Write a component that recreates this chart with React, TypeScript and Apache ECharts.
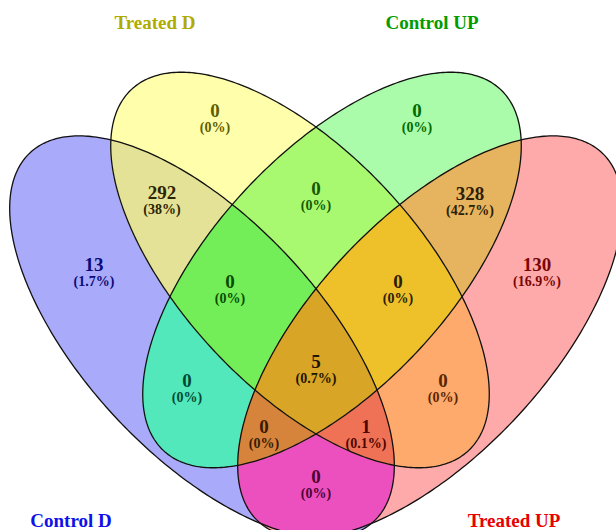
import React, { useEffect, useRef } from "react";
import * as echarts from "echarts";

// Set names, in the order A, B, C, D used by the region keys below
const setNames = ["Control D", "Treated D", "Control UP", "Treated UP"];
const setColors = ["#1010e8", "#b0ab00", "#009c00", "#e80000"];

// Venn regions (letters = sets that contain the region) and their counts
const regionKeys = ["A", "B", "C", "D", "AB", "AC", "AD", "BC", "BD", "CD", "ABC", "ABD", "ACD", "BCD", "ABCD"];
const regionCounts = [13, 0, 0, 130, 292, 0, 0, 0, 0, 328, 0, 1, 0, 0, 5];

// ---- layout & styling (chart space is 616 x 530, y pointing down) ----
const ellipses = [
  { cx: 202, cy: 337, a: 252, b: 118, angle: 47 },
  { cx: 300, cy: 270, a: 247, b: 118, angle: 47 },
  { cx: 332, cy: 270, a: 247, b: 118, angle: -47 },
  { cx: 430, cy: 337, a: 252, b: 118, angle: -47 },
];
const setLabelPos = [
  [71, 520],
  [155, 22],
  [432, 22],
  [514, 520],
];
const regionLabelPos = [
  [94, 272], [215, 118], [417, 118], [537, 272],
  [162, 200], [187, 388], [316, 484], [316, 196], [443, 388], [470, 201],
  [230, 289], [366, 434], [264, 434], [398, 289],
  [316, 369],
];
const regionFill = [
  "#aaaafb", "#ffffab", "#aafbaa", "#ffaaaa",
  "#e4e296", "#52e8bc", "#ec50be", "#a8f870", "#fdaa6c", "#e6b45e",
  "#74ee58", "#f07256", "#d6843c", "#eec02a",
  "#d9a526",
];
const regionText = [
  "#0a0a78", "#5e5e00", "#006a00", "#7a0606",
  "#2c2604", "#004a34", "#4c0034", "#165a00", "#5a2600", "#2c2004",
  "#084c00", "#4c0600", "#3a1a00", "#2c2000",
  "#221600",
];

type Pt = [number, number];

function ellipsePoints(e: { cx: number; cy: number; a: number; b: number; angle: number }, n = 360): Pt[] {
  const phi = (e.angle * Math.PI) / 180;
  const c = Math.cos(phi);
  const s = Math.sin(phi);
  const pts: Pt[] = [];
  for (let i = 0; i < n; i++) {
    const t = (i / n) * Math.PI * 2;
    const u = e.a * Math.cos(t);
    const v = e.b * Math.sin(t);
    pts.push([e.cx + u * c - v * s, e.cy + u * s + v * c]);
  }
  return pts;
}

function signedArea(p: Pt[]): number {
  let s = 0;
  for (let i = 0; i < p.length; i++) {
    const q = p[(i + 1) % p.length];
    s += p[i][0] * q[1] - q[0] * p[i][1];
  }
  return s / 2;
}

function lineIntersect(p1: Pt, p2: Pt, a: Pt, b: Pt): Pt {
  const d1x = p2[0] - p1[0], d1y = p2[1] - p1[1];
  const d2x = b[0] - a[0], d2y = b[1] - a[1];
  const den = d1x * d2y - d1y * d2x;
  if (Math.abs(den) < 1e-12) return p2;
  const t = ((a[0] - p1[0]) * d2y - (a[1] - p1[1]) * d2x) / den;
  return [p1[0] + t * d1x, p1[1] + t * d1y];
}

// Sutherland–Hodgman clipping against a convex polygon
function clipConvex(subject: Pt[], clip: Pt[]): Pt[] {
  const orient = Math.sign(signedArea(clip));
  let output = subject;
  for (let i = 0; i < clip.length && output.length; i++) {
    const a = clip[i];
    const b = clip[(i + 1) % clip.length];
    const inside = (p: Pt) => orient * ((b[0] - a[0]) * (p[1] - a[1]) - (b[1] - a[1]) * (p[0] - a[0])) >= 0;
    const input = output;
    output = [];
    for (let j = 0; j < input.length; j++) {
      const cur = input[j];
      const prev = input[(j + input.length - 1) % input.length];
      const ci = inside(cur);
      const pi = inside(prev);
      if (ci) {
        if (!pi) output.push(lineIntersect(prev, cur, a, b));
        output.push(cur);
      } else if (pi) {
        output.push(lineIntersect(prev, cur, a, b));
      }
    }
  }
  return output;
}

const ellipsePolys = ellipses.map((e) => ellipsePoints(e));
// each key's polygon = intersection of its sets; painted in order so deeper overlaps sit on top
const regionPolys = regionKeys.map((key) => {
  const idx = key.split("").map((ch) => ch.charCodeAt(0) - 65);
  let poly = ellipsePolys[idx[0]];
  for (let k = 1; k < idx.length; k++) poly = clipConvex(poly, ellipsePolys[idx[k]]);
  return poly;
});

const total = regionCounts.reduce((s, v) => s + v, 0);
const pctText = (v: number) => `${Math.round((v / total) * 1000) / 10}%`;

const FONT = "'Liberation Serif', 'Times New Roman', serif";

export default function App() {
  const ref = useRef<HTMLDivElement>(null);

  useEffect(() => {
    if (!ref.current) return;
    const chart = echarts.init(ref.current, undefined, { renderer: "svg" });

    const rich: Record<string, any> = {};
    regionText.forEach((col, i) => {
      const base = { fontFamily: FONT, fontWeight: "bold", color: col, align: "center", textBorderWidth: 0 };
      rich["n" + i] = { ...base, fontSize: 19, lineHeight: 19 };
      rich["p" + i] = { ...base, fontSize: 14, lineHeight: 16 };
    });

    chart.setOption({
      animation: false,
      backgroundColor: "#ffffff",
      grid: { left: 0, right: 0, top: 0, bottom: 0 },
      xAxis: { type: "value", min: 0, max: 616, show: false },
      yAxis: { type: "value", min: 0, max: 530, inverse: true, show: false },
      series: [
        {
          type: "custom",
          coordinateSystem: "cartesian2d",
          clip: false,
          silent: true,
          data: regionKeys.map((_, i) => [i, regionCounts[i]]),
          renderItem: (params: any, api: any) => {
            const poly = regionPolys[params.dataIndex];
            if (!poly || poly.length < 3) return null;
            return {
              type: "polygon",
              shape: { points: poly.map((p) => api.coord(p)) },
              style: { fill: regionFill[params.dataIndex], stroke: regionFill[params.dataIndex], lineWidth: 0.5 },
            };
          },
          z: 1,
        },
        {
          type: "custom",
          coordinateSystem: "cartesian2d",
          clip: false,
          silent: true,
          data: setNames.map((_, i) => [i, 0]),
          renderItem: (params: any, api: any) => {
            const poly = ellipsePolys[params.dataIndex];
            return {
              type: "polygon",
              shape: { points: poly.map((p) => api.coord(p)) },
              style: { fill: "none", stroke: "#111111", lineWidth: 1.3 },
            };
          },
          z: 2,
        },
        {
          type: "scatter",
          silent: true,
          symbol: "circle",
          symbolSize: 1,
          itemStyle: { color: "rgba(0,0,0,0)", opacity: 1 },
          data: regionLabelPos.map((p) => p),
          label: {
            show: true,
            position: "inside",
            textBorderWidth: 0,
            formatter: (params: any) => {
              const i = params.dataIndex;
              return `{n${i}|${regionCounts[i]}}\n{p${i}|(${pctText(regionCounts[i])})}`;
            },
            rich,
          },
          z: 3,
        },
        {
          type: "scatter",
          silent: true,
          symbol: "circle",
          symbolSize: 1,
          itemStyle: { color: "rgba(0,0,0,0)", opacity: 1 },
          data: setLabelPos.map((p, i) => ({
            value: p,
            name: setNames[i],
            label: { color: setColors[i] },
          })),
          label: {
            show: true,
            position: "inside",
            textBorderWidth: 0,
            formatter: "{b}",
            fontFamily: FONT,
            fontWeight: "bold",
            fontSize: 19,
          },
          z: 3,
        },
      ],
    });

    return () => chart.dispose();
  }, []);

  return (
    <div
      ref={ref}
      style={{ position: "absolute", left: 0, top: 0, width: 616, height: 530, background: "#fff" }}
    />
  );
}
